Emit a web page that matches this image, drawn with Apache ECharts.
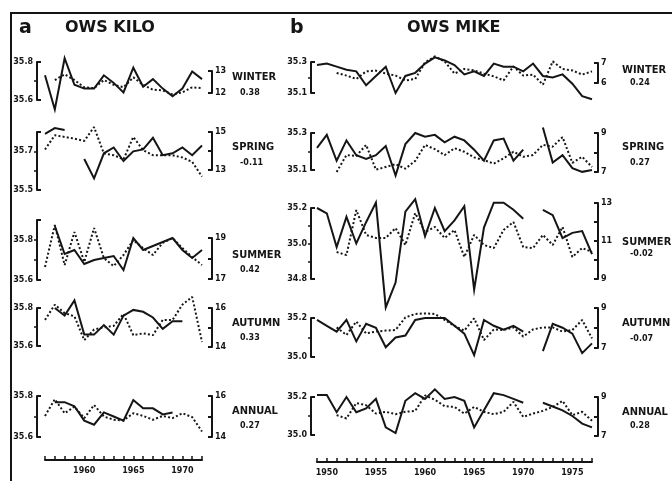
<!DOCTYPE html>
<html><head><meta charset="utf-8">
<script src="https://cdn.jsdelivr.net/npm/echarts@6/dist/echarts.min.js"></script>
<style>html,body{margin:0;padding:0;background:#fff}#c{width:672px;height:481px}</style>
</head><body><div id="c"></div>
<script>
// ---------- DATA ----------
const yearsA = [1956,1957,1958,1959,1960,1961,1962,1963,1964,1965,1966,1967,1968,1969,1970,1971,1972];
const yearsB = [1949,1950,1951,1952,1953,1954,1955,1956,1957,1958,1959,1960,1961,1962,1963,1964,1965,1966,1967,1968,1969,1970,1971,1972,1973,1974,1975,1976,1977];
const seasons = ['WINTER','SPRING','SUMMER','AUTUMN','ANNUAL'];
const corrA = ['0.38','-0.11','0.42','0.33','0.27'];
const corrB = ['0.24','0.27','-0.02','-0.07','0.28'];
const titleA = ['a','OWS KILO'];
const titleB = ['b','OWS MIKE'];

// OWS KILO (salinity = solid, temperature = dotted)
const kiloWinterSal  = [35.73,35.55,35.82,35.68,35.66,35.66,35.73,35.69,35.64,35.77,35.67,35.71,35.66,35.62,35.66,35.75,35.71];
const kiloWinterTemp = [null,12.59,12.85,12.59,12.26,12.22,12.59,12.37,12.26,12.71,12.37,12.15,12.12,11.93,12.03,12.26,12.22];
const kiloSpringSal  = [35.79,35.82,35.81,null,35.66,35.56,35.69,35.72,35.65,35.70,35.71,35.77,35.68,35.69,35.72,35.68,35.73];
const kiloSpringTemp = [14.08,14.83,14.74,14.65,14.53,15.26,13.87,13.78,13.56,14.74,14.04,13.78,13.78,13.78,13.66,13.43,12.65];
const kiloSummerSal  = [null,35.87,35.73,35.75,35.68,35.70,35.71,35.72,35.65,35.81,35.75,35.77,35.79,35.81,35.75,35.71,35.75];
const kiloSummerTemp = [17.59,19.63,17.68,19.29,17.83,19.49,18.02,17.63,18.17,18.90,18.51,18.17,18.76,19.00,18.51,18.07,17.68];
const kiloAutumnSal  = [null,35.80,35.76,35.84,35.66,35.66,35.71,35.66,35.76,35.79,35.78,35.75,35.69,35.73,35.73,null,null];
const kiloAutumnTemp = [15.39,16.17,15.74,15.57,14.35,14.90,15.01,15.08,15.70,14.61,14.70,14.61,15.39,15.39,16.17,16.57,14.26];
const kiloAnnualSal  = [null,35.77,35.77,35.75,35.68,35.66,35.72,35.70,35.68,35.78,35.74,35.74,35.71,35.72,null,null,null];
const kiloAnnualTemp = [15.03,15.84,15.16,15.48,14.92,15.56,15.00,14.84,14.81,15.16,15.03,14.84,15.03,14.92,15.16,14.97,14.27];

// OWS MIKE
const mikeWinterSal  = [35.28,35.29,35.27,35.25,35.24,35.15,35.21,35.27,35.10,35.21,35.23,35.29,35.33,35.31,35.28,35.22,35.24,35.21,35.29,35.27,35.27,35.24,35.29,35.21,35.20,35.22,35.16,35.08,35.06];
const mikeWinterTemp = [null,null,6.50,6.37,6.20,6.58,6.62,6.47,6.37,6.13,6.20,7.03,7.33,7.08,6.47,6.70,6.63,6.47,6.33,6.13,6.83,6.37,6.42,5.92,7.08,6.70,6.63,6.42,6.58];
const mikeSpringSal  = [35.22,35.29,35.15,35.26,35.18,35.16,35.18,35.23,35.07,35.24,35.30,35.28,35.29,35.25,35.28,35.26,35.21,35.15,35.26,35.27,35.15,35.21,null,35.33,35.14,35.18,35.11,35.09,35.10];
const mikeSpringTemp = [null,null,7.00,7.87,7.82,8.39,7.12,7.26,7.40,7.17,7.57,8.39,8.17,7.87,8.22,8.04,7.75,7.61,7.43,7.70,8.04,7.78,7.87,8.39,8.30,8.79,7.47,7.78,7.26];
const mikeSummerSal  = [35.20,35.17,34.98,35.15,35.00,35.12,35.23,34.64,34.78,35.18,35.25,35.04,35.20,35.07,35.13,35.21,34.74,35.09,35.23,35.23,35.19,35.14,null,35.19,35.16,35.03,35.06,35.07,34.94];
const mikeSummerTemp = [null,null,10.42,10.26,12.63,11.32,11.16,11.16,11.68,10.79,12.47,11.47,11.74,11.16,11.58,10.16,11.32,10.79,10.63,11.58,12.00,10.68,10.63,11.32,10.79,11.74,10.16,10.63,10.42];
const mikeAutumnSal  = [35.19,35.16,35.13,35.19,35.08,35.17,35.15,35.05,35.10,35.11,35.19,35.20,35.20,35.20,35.16,35.12,35.01,35.19,35.16,35.14,35.16,35.13,null,35.03,35.17,35.15,35.12,35.02,35.07];
const mikeAutumnTemp = [null,null,8.03,7.65,8.32,7.73,7.82,7.87,7.90,8.53,8.70,8.73,8.70,8.40,8.10,7.87,8.48,7.40,7.93,7.90,8.03,7.57,7.93,8.03,8.03,7.82,7.90,8.40,7.48];
const mikeAnnualSal  = [35.21,35.21,35.12,35.20,35.12,35.14,35.19,35.04,35.01,35.18,35.22,35.19,35.24,35.19,35.20,35.18,35.04,35.13,35.22,35.21,35.19,35.17,null,35.17,35.15,35.13,35.10,35.06,35.04];
const mikeAnnualTemp = [null,null,8.07,7.90,8.69,8.58,8.15,8.24,8.12,8.24,8.29,9.08,8.86,8.53,8.49,8.15,8.49,8.24,8.12,8.24,8.75,7.98,8.15,8.29,8.49,8.80,8.07,8.24,7.78];

// axis ranges and tick labels
const salRangeA  = [[35.6,35.8],[35.5,35.8],[35.6,35.9],[35.6,35.8],[35.6,35.8]];
const salRangeB  = [[35.1,35.3],[35.1,35.3],[34.8,35.2],[35.0,35.2],[35.0,35.2]];
const tempRangeA = [[12,13],[13,15],[17,19],[14,16],[14,16]];
const tempRangeB = [[6,7],[7,9],[9,13],[7,9],[7,9]];
const salLabelsA  = [[35.6,35.8],[35.5,35.7],[35.6,35.8],[35.6,35.8],[35.6,35.8]];
const salLabelsB  = [[35.1,35.3],[35.1,35.3],[34.8,35.0,35.2],[35.0,35.2],[35.0,35.2]];
const tempLabelsA = [[12,13],[13,15],[17,19],[14,16],[14,16]];
const tempLabelsB = [[6,7],[7,9],[9,11,13],[7,9],[7,9]];
const xLabelsA = [1960,1965,1970];
const xLabelsB = [1950,1955,1960,1965,1970,1975];

// ---------- LAYOUT ----------
const INK = '#151515';
const panels = [
  { years: yearsA, sal: [kiloWinterSal,kiloSpringSal,kiloSummerSal,kiloAutumnSal,kiloAnnualSal],
    temp: [kiloWinterTemp,kiloSpringTemp,kiloSummerTemp,kiloAutumnTemp,kiloAnnualTemp],
    salRange: salRangeA, tempRange: tempRangeA, salLabels: salLabelsA, tempLabels: tempLabelsA, xLabels: xLabelsA,
    corr: corrA, title: titleA,
    left: 45, width: 157, lOff: 8, rOff: 10, axisY: 460,
    salBox: [[62,100],[132,190],[220,280],[308,346],[396,437]],
    tempBox: [[71,93],[132,170],[238,279],[308,347],[396,437]],
    nameX: 232, corrX: 240, nameY: [77,147,255,323,411], corrY: [93,163,270,338,426],
    titleX: [19,65], },
  { years: yearsB, sal: [mikeWinterSal,mikeSpringSal,mikeSummerSal,mikeAutumnSal,mikeAnnualSal],
    temp: [mikeWinterTemp,mikeSpringTemp,mikeSummerTemp,mikeAutumnTemp,mikeAnnualTemp],
    salRange: salRangeB, tempRange: tempRangeB, salLabels: salLabelsB, tempLabels: tempLabelsB, xLabels: xLabelsB,
    corr: corrB, title: titleB,
    left: 317, width: 275, lOff: 6, rOff: 6, axisY: 462,
    salBox: [[62,93],[133,170],[208,279],[318,357],[397,435]],
    tempBox: [[63,83],[133,172],[203,279],[308,348],[397,436]],
    nameX: 622, corrX: 630, nameY: [70,147,242,323,412], corrY: [83,163,254,339,426],
    titleX: [290,407], }
];

const r1 = v => Math.round(v*10)/10;
function steps(min, max, st){ const out=[]; for(let v=min; v<=max+1e-9; v+=st) out.push(st<1?r1(v):Math.round(v)); return out; }
function pts(years, vals){ return years.map((y,i)=> [y, vals[i]==null ? '-' : vals[i]]); }

const grid=[], xAxis=[], yAxis=[], series=[], graphic=[];
const lab = {fontSize:8, fontWeight:'bold', color:INK, fontFamily:'DejaVu Sans'};

panels.forEach((P, p) => {
  const yMin = P.years[0], yMax = P.years[P.years.length-1];
  for (let r=0; r<5; r++){
    ['sal','temp'].forEach(kind => {
      const box = kind==='sal' ? P.salBox[r] : P.tempBox[r];
      const g = grid.length;
      grid.push({left:P.left, width:P.width, top:box[0], height:box[1]-box[0], containLabel:false});
      const isAxisRow = (kind==='sal' && r===4);
      xAxis.push({gridIndex:g, type:'value', min:yMin, max:yMax, interval:1, show:isAxisRow,
        position:'bottom', offset: isAxisRow ? P.axisY - box[1] : 0,
        axisLine:{show:true, lineStyle:{color:INK, width:2}},
        axisTick:{show:true, inside:true, length:4, lineStyle:{color:INK, width:1.5}},
        axisLabel:{show:true, margin:7, ...lab, formatter: v => P.xLabels.includes(v) ? String(v) : ''},
        splitLine:{show:false}});
      let yIdx;
      if (kind==='sal'){
        const [mn,mx] = P.salRange[r];
        yIdx = yAxis.length;
        yAxis.push({gridIndex:g, type:'value', position:'left', offset:P.lOff, min:mn, max:mx,
          axisLine:{show:true, lineStyle:{color:INK, width:2}},
          axisTick:{show:true, inside:true, length:4, customValues:[mn,mx], lineStyle:{color:INK, width:2}},
          axisLabel:{show:true, customValues:P.salLabels[r], margin:4, ...lab, formatter: v => Number(v).toFixed(1)},
          splitLine:{show:false}});
        const mids = steps(mn, mx, 0.1).filter(v => v>mn+1e-6 && v<mx-1e-6);
        yAxis.push({gridIndex:g, type:'value', position:'left', offset:P.lOff, min:mn, max:mx,
          axisLine:{show:false},
          axisTick:{show:true, inside:false, length:3, customValues:mids, lineStyle:{color:INK, width:1.5}},
          axisLabel:{show:false}, splitLine:{show:false}});
        series.push({type:'line', xAxisIndex:g, yAxisIndex:yIdx, data:pts(P.years, P.sal[r]),
          showSymbol:false, symbol:'none', clip:false, connectNulls:false, silent:true,
          lineStyle:{color:INK, width:2, type:'solid', join:'miter'}});
      } else {
        const [mn,mx] = P.tempRange[r];
        yIdx = yAxis.length;
        yAxis.push({gridIndex:g, type:'value', position:'right', offset:P.rOff, min:mn, max:mx,
          axisLine:{show:true, lineStyle:{color:INK, width:2}},
          axisTick:{show:true, inside:true, length:4, customValues:steps(mn,mx,1), lineStyle:{color:INK, width:2}},
          axisLabel:{show:true, customValues:P.tempLabels[r], margin:3, ...lab, formatter: v => String(v)},
          splitLine:{show:false}});
        series.push({type:'line', xAxisIndex:g, yAxisIndex:yIdx, data:pts(P.years, P.temp[r]),
          showSymbol:false, symbol:'none', clip:false, connectNulls:false, silent:true,
          lineStyle:{color:INK, width:2, type:[2,2.2]}});
      }
    });
    graphic.push({type:'text', style:{text:seasons[r], x:P.nameX, y:P.nameY[r], fill:INK,
      font:'bold 11px "DejaVu Sans Condensed", "DejaVu Sans"', textVerticalAlign:'middle', verticalAlign:'middle'}});
    graphic.push({type:'text', style:{text:P.corr[r], x:P.corrX, y:P.corrY[r], fill:INK,
      font:'bold 8px "DejaVu Sans"', textVerticalAlign:'middle', verticalAlign:'middle'}});
  }
  graphic.push({type:'text', style:{text:P.title[0], x:P.titleX[0], y:28, fill:INK,
    font:'bold 19px "DejaVu Sans"', textVerticalAlign:'middle', verticalAlign:'middle'}});
  graphic.push({type:'text', style:{text:P.title[1], x:P.titleX[1], y:28, fill:INK,
    font:'bold 16px "DejaVu Sans"', textVerticalAlign:'middle', verticalAlign:'middle'}});
});
graphic.push({type:'line', shape:{x1:11, y1:13, x2:672, y2:13}, style:{stroke:INK, lineWidth:2}});
graphic.push({type:'line', shape:{x1:11, y1:12, x2:11, y2:481}, style:{stroke:INK, lineWidth:2}});

const chart = echarts.init(document.getElementById('c'), null, {renderer:'canvas'});
chart.setOption({animation:false, backgroundColor:'#fff', grid, xAxis, yAxis, series, graphic});
</script></body></html>
